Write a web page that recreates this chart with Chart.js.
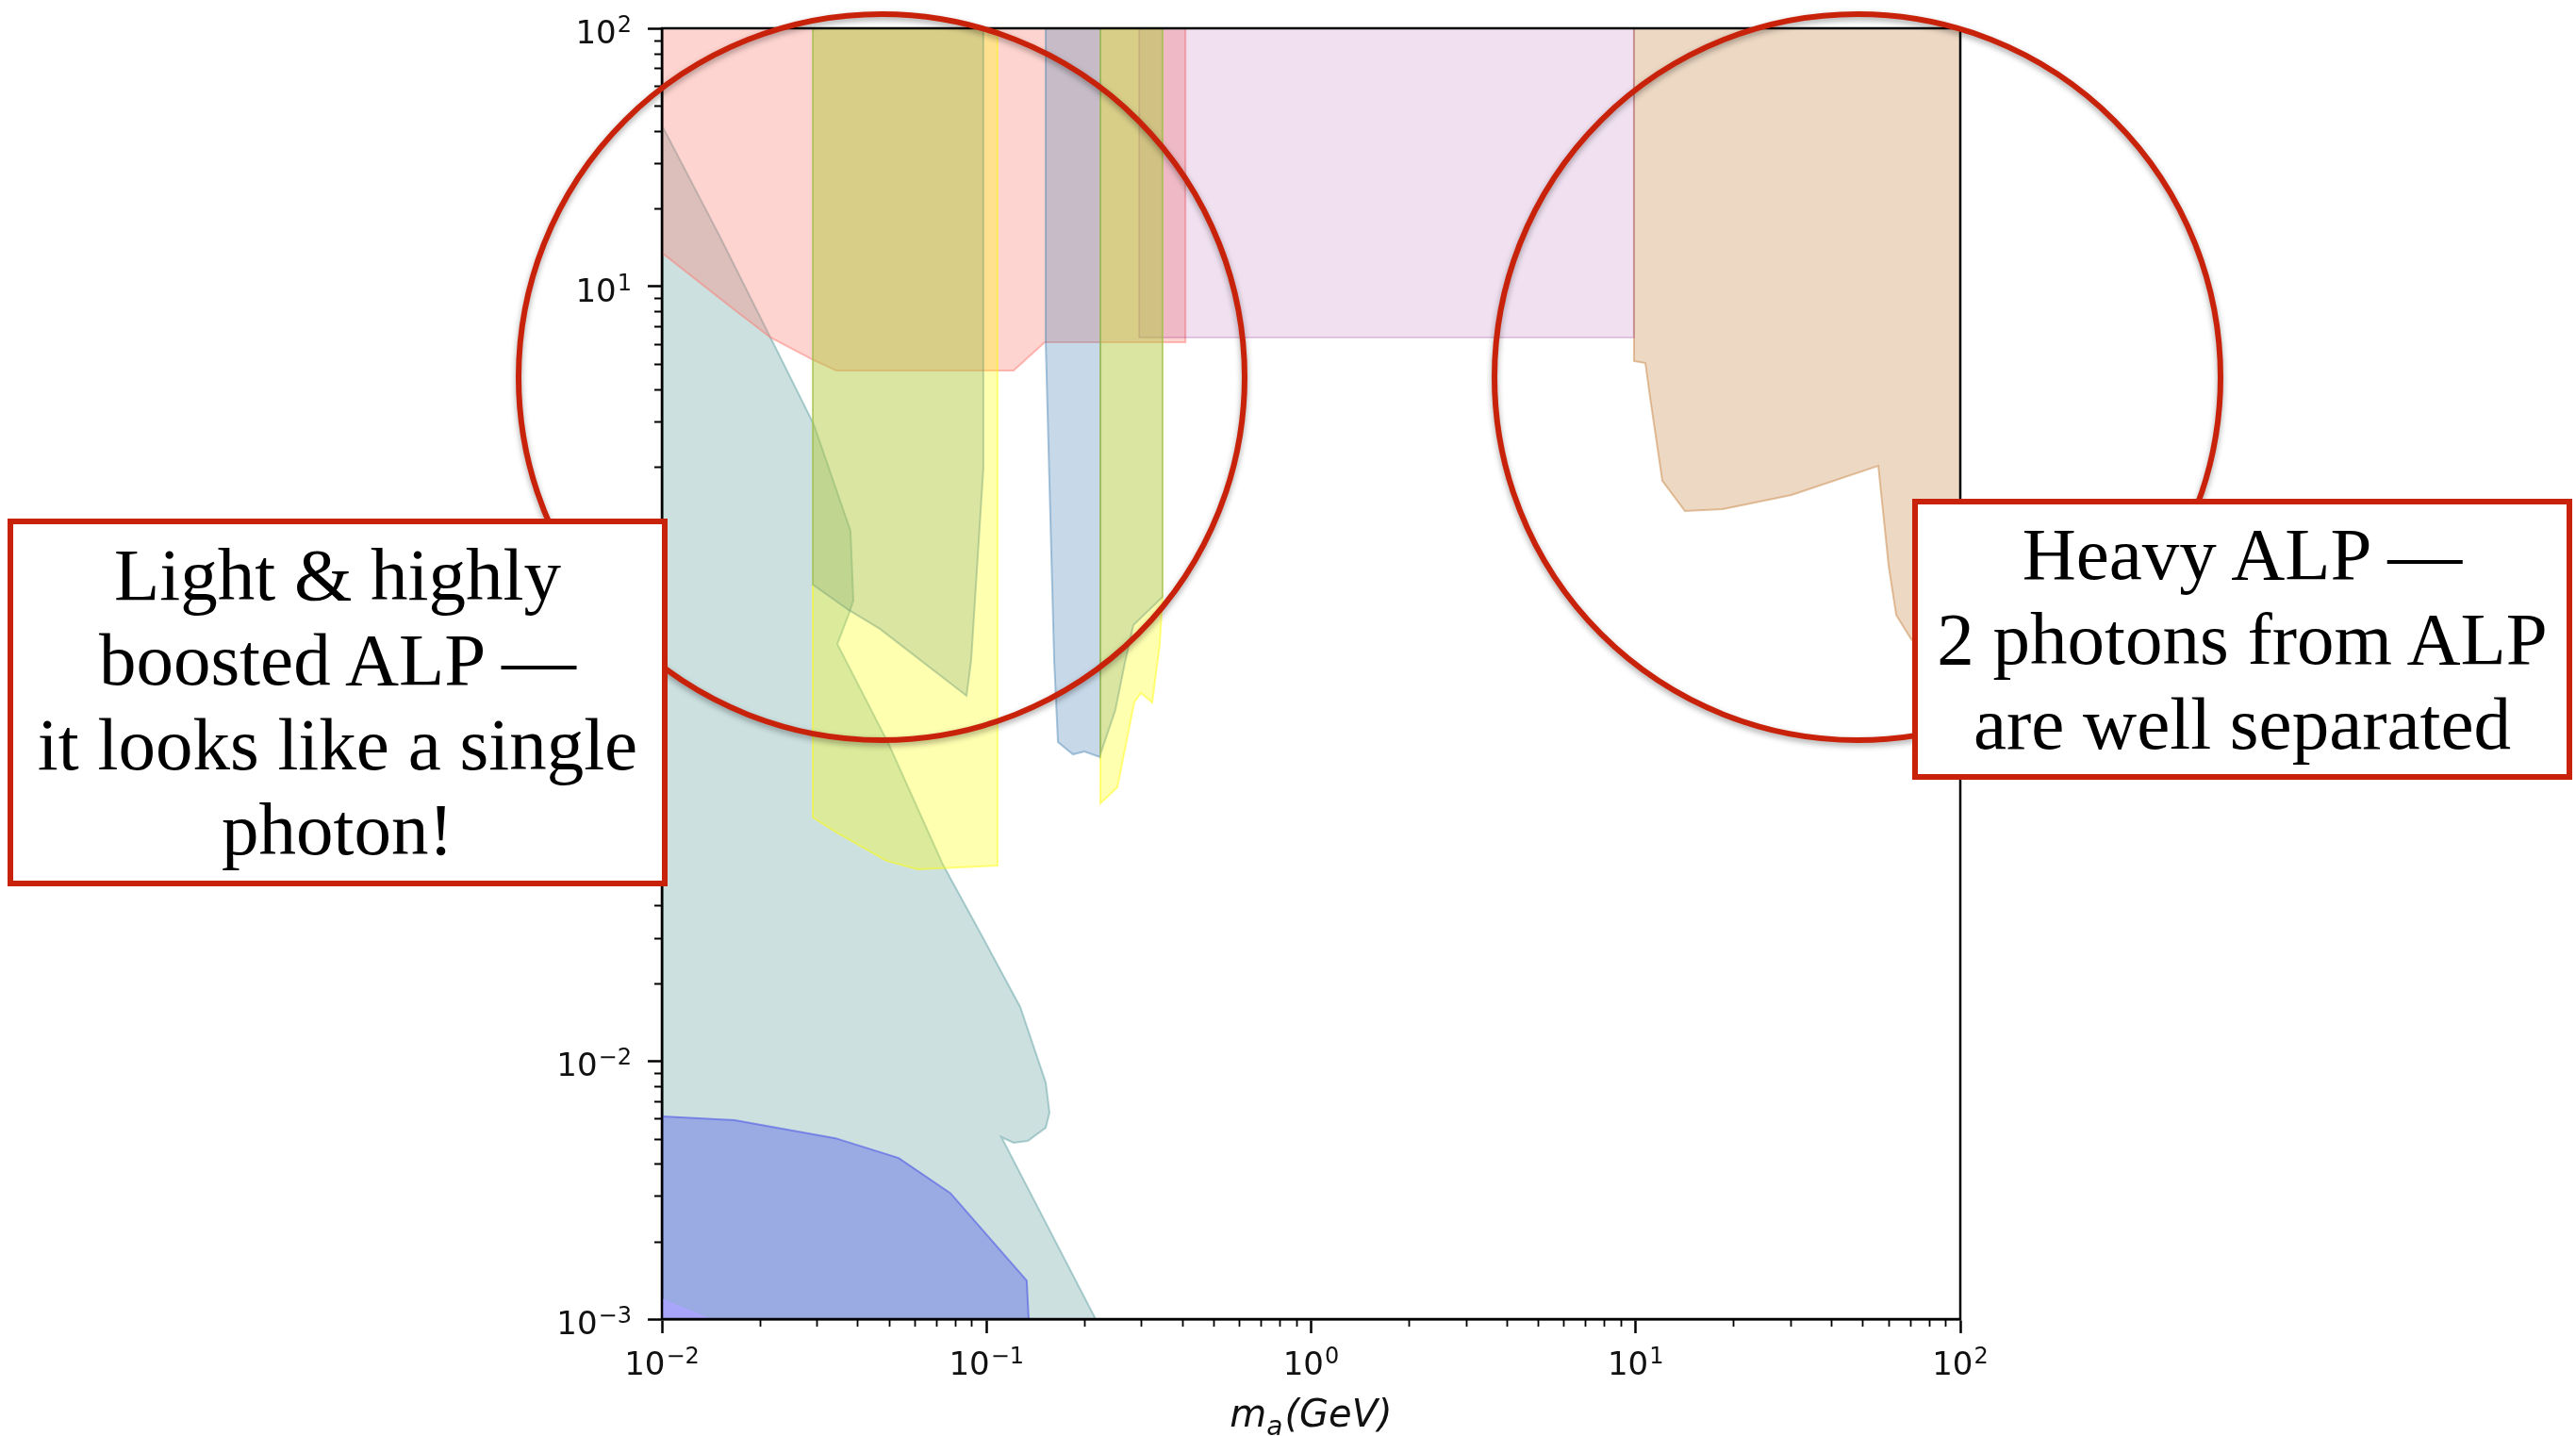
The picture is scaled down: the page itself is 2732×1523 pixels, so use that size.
<!DOCTYPE html>
<html>
<head>
<meta charset="utf-8">
<title>ALP exclusion regions</title>
<script src="https://cdn.jsdelivr.net/npm/chart.js@4.4.1/dist/chart.umd.min.js"></script>
<style>
  html, body { margin: 0; padding: 0; background: #fff; }
  #wrap { position: relative; width: 2732px; height: 1523px; overflow: hidden; }
  #wrap canvas { position: absolute; left: 0; top: 0; }
  .ring {
    position: absolute; box-sizing: border-box;
    border: 6px solid #c9220a; border-radius: 50%;
    filter: drop-shadow(0 3px 3px rgba(0, 0, 0, 0.35));
  }
  .note {
    position: absolute; box-sizing: border-box;
    border: 6px solid #c9220a; background: #fff;
    display: flex; align-items: center; justify-content: center; text-align: center;
    font-family: 'Liberation Serif', 'Times New Roman', serif;
    font-size: 79px; line-height: 90px; color: #000;
  }
</style>
</head>
<body>
<div id="wrap">
  <canvas id="alpChart"></canvas>
  <div class="ring" style="left:547px; top:12px; width:776px; height:776px;"></div>
  <div class="ring" style="left:1582px; top:12px; width:776px; height:776px;"></div>
  <div class="note" style="left:8px; top:550px; width:700px; height:390px;">
    <div>Light &amp; highly<br>boosted ALP —<br>it looks like a single<br>photon!</div>
  </div>
  <div class="note" style="left:2028px; top:529px; width:700px; height:298px;">
    <div>Heavy ALP —<br>2 photons from ALP<br>are well separated</div>
  </div>
</div>

<script>
// axes: ALP mass (GeV) horizontally, coupling vertically, both log
const massTicks = [0.01, 0.1, 1, 10, 100];
const massTickExponents = ['−2', '−1', '0', '1', '2'];
const couplingTicks = [0.001, 0.01, 0.1, 1, 10, 100];
const couplingTickExponents = ['−3', '−2', '−1', '0', '1', '2'];
const minorSteps = [2, 3, 4, 5, 6, 7, 8, 9];

// excluded regions (closed outlines)
const redMass = [0.01, 0.01, 0.0165, 0.0216, 0.0294, 0.0345, 0.1212, 0.1511, 0.41, 0.41, 0.01];
const redCoupling = [100, 13.5, 8.23, 6.34, 5.18, 4.72, 4.72, 6.08, 6.08, 100, 100];

const tealMass = [0.01, 0.01, 0.01504, 0.0216, 0.02936, 0.0381, 0.03889, 0.0376, 0.0347, 0.0501, 0.0734, 0.0959,
                  0.127, 0.1522, 0.1563, 0.1522, 0.134, 0.1212, 0.1111, 0.2169, 0.01];
const tealCoupling = [0.001, 42.1, 15.73, 6.34, 2.924, 1.131, 0.607, 0.535, 0.412, 0.1676, 0.0576, 0.0312,
                      0.01618, 0.00825, 0.00631, 0.00551, 0.0049, 0.00482, 0.00507, 0.001, 0.001];

const yellowMass = [0.02916, 0.02916, 0.0345, 0.0491, 0.0613, 0.1081, 0.1081, 0.02916];
const yellowCoupling = [100, 0.0877, 0.0767, 0.0596, 0.0552, 0.0571, 100, 100];

const greenMass = [0.02916, 0.02916, 0.0376, 0.0469, 0.0868, 0.0897, 0.0978, 0.0978, 0.02916];
const greenCoupling = [100, 0.70, 0.558, 0.4717, 0.2596, 0.357, 1.97, 100, 100];

const steelMass = [0.1522, 0.1522, 0.1616, 0.166, 0.1847, 0.2001, 0.2243, 0.2243, 0.1522];
const steelCoupling = [100, 6.08, 0.357, 0.1718, 0.154, 0.158, 0.1502, 100, 100];

const yellow2Mass = [0.2243, 0.2243, 0.253, 0.2852, 0.2989, 0.324, 0.3418, 0.3487, 0.3487, 0.2243];
const yellow2Coupling = [100, 0.0995, 0.1148, 0.2446, 0.2661, 0.2446, 0.412, 0.6275, 100, 100];

const green2Mass = [0.2243, 0.2243, 0.2495, 0.2669, 0.2835, 0.3487, 0.3487, 0.2243];
const green2Coupling = [100, 0.154, 0.2288, 0.3483, 0.4877, 0.6275, 100, 100];

const purpleMass = [0.2951, 0.2951, 9.88, 9.88, 0.2951];
const purpleCoupling = [100, 6.34, 6.34, 100, 100];

const tanMass = [9.88, 9.88, 10.71, 11.07, 12.08, 14.18, 18.54, 30.2, 55.9, 60.2, 63.5, 70.6, 82.4, 100, 100, 9.88];
const tanCoupling = [100, 5.14, 5.05, 3.73, 1.766, 1.349, 1.372, 1.556, 2.018, 0.821, 0.533, 0.43, 0.357, 0.315, 100, 100];

const royalMass = [0.01, 0.01, 0.01674, 0.03423, 0.0536, 0.0774, 0.133, 0.1349, 0.01];
const royalCoupling = [0.001, 0.0061, 0.0059, 0.00502, 0.00421, 0.003076, 0.00141, 0.001, 0.001];

const violetMass = [0.01, 0.01, 0.01397, 0.01];
const violetCoupling = [0.001, 0.00119, 0.001, 0.001];

function region(mass, coupling, rgb, alpha) {
  return {
    data: mass.map((m, i) => ({ x: m, y: coupling[i] })),
    backgroundColor: 'rgba(' + rgb + ',' + alpha + ')',
    borderColor: 'rgba(' + rgb + ',' + Math.min(1, alpha * 1.5) + ')',
    borderWidth: 2,
    pointRadius: 0,
    tension: 0,
    fill: 'shape'
  };
}

function logTicks(majors) {
  const out = [];
  majors.forEach((v, i) => {
    out.push({ value: v, major: true });
    if (i < majors.length - 1) minorSteps.forEach(k => out.push({ value: v * k, major: false }));
  });
  return out;
}

const FONT = '"DejaVu Sans"';

// "10" with a raised exponent, like matplotlib's mathtext
function drawPower(ctx, exp, x, y, align) {
  ctx.font = '34px ' + FONT;
  const wb = ctx.measureText('10').width;
  ctx.font = '24px ' + FONT;
  const we = ctx.measureText(exp).width;
  const total = wb + 1 + we;
  const left = align === 'center' ? x - total / 2 : x - total;
  ctx.font = '34px ' + FONT;
  ctx.fillText('10', left, y);
  ctx.font = '24px ' + FONT;
  ctx.fillText(exp, left + wb + 1, y - 12);
}

// frame on top of the fills, short minor ticks, power-of-ten labels, axis title
const axisDecor = {
  id: 'axisDecor',
  afterDatasetsDraw(chart) {
    const { ctx, chartArea: a, scales } = chart;
    ctx.save();
    ctx.strokeStyle = '#000';
    ctx.lineWidth = 1.8;
    ctx.beginPath();
    scales.x.ticks.filter(t => !t.major).forEach(t => {
      const px = Math.round(scales.x.getPixelForValue(t.value)) + 0.5;
      ctx.moveTo(px, a.bottom);
      ctx.lineTo(px, a.bottom + 8);
    });
    scales.y.ticks.filter(t => !t.major).forEach(t => {
      const py = Math.round(scales.y.getPixelForValue(t.value)) + 0.5;
      ctx.moveTo(a.left, py);
      ctx.lineTo(a.left - 8, py);
    });
    ctx.stroke();
    ctx.lineWidth = 2.5;
    ctx.strokeRect(a.left, a.top, a.right - a.left, a.bottom - a.top);

    ctx.fillStyle = '#111';
    ctx.textAlign = 'left';
    ctx.textBaseline = 'alphabetic';
    massTicks.forEach((v, i) => {
      drawPower(ctx, massTickExponents[i], scales.x.getPixelForValue(v), a.bottom + 59, 'center');
    });
    couplingTicks.forEach((v, i) => {
      drawPower(ctx, couplingTickExponents[i], a.left - 32, scales.y.getPixelForValue(v) + 16, 'right');
    });

    // m_a(GeV)
    const big = 'italic 40px ' + FONT, small = 'italic 28px ' + FONT;
    ctx.font = big;
    const wm = ctx.measureText('m').width, wr = ctx.measureText('(GeV)').width;
    ctx.font = small;
    const wa = ctx.measureText('a').width;
    let x0 = (a.left + a.right) / 2 - (wm + wa + wr + 2) / 2;
    const base = a.bottom + 114;
    ctx.font = big;
    ctx.fillText('m', x0, base);
    ctx.font = small;
    ctx.fillText('a', x0 + wm, base + 9);
    ctx.font = big;
    ctx.fillText('(GeV)', x0 + wm + wa + 2, base);
    ctx.restore();
  }
};

const tickMarks = {
  drawOnChartArea: false,
  drawTicks: true,
  tickLength: 15,
  tickWidth: 2.5,
  tickColor: c => (c.tick && c.tick.major ? '#000' : 'rgba(0,0,0,0)')
};

new Chart(document.getElementById('alpChart'), {
  type: 'line',
  data: {
    datasets: [
      region(violetMass, violetCoupling, '170,165,255', 0.85),
      region(royalMass, royalCoupling, '80,90,230', 0.4),
      region(green2Mass, green2Coupling, '102,150,112', 0.25),
      region(greenMass, greenCoupling, '102,150,112', 0.25),
      region(yellow2Mass, yellow2Coupling, '255,255,0', 0.31),
      region(yellowMass, yellowCoupling, '255,255,0', 0.31),
      region(steelMass, steelCoupling, '70,130,180', 0.3),
      region(purpleMass, purpleCoupling, '128,0,128', 0.12),
      region(tanMass, tanCoupling, '195,125,55', 0.3),
      region(redMass, redCoupling, '252,120,110', 0.32),
      region(tealMass, tealCoupling, '95,158,160', 0.32)
    ]
  },
  options: {
    responsive: true,
    maintainAspectRatio: false,
    animation: false,
    events: [],
    layout: { padding: { left: 0, top: 30, right: 653, bottom: 0 } },
    plugins: {
      legend: { display: false },
      tooltip: { enabled: false }
    },
    scales: {
      x: {
        type: 'logarithmic',
        min: 0.01,
        max: 100,
        afterBuildTicks: s => { s.ticks = logTicks(massTicks); },
        afterFit: s => { s.height = 124; s.paddingLeft = 0; s.paddingRight = 0; },
        border: { display: true, color: '#000', width: 2.5 },
        grid: tickMarks,
        ticks: { display: false, autoSkip: false }
      },
      y: {
        type: 'logarithmic',
        min: 0.001,
        max: 100,
        afterBuildTicks: s => { s.ticks = logTicks(couplingTicks); },
        afterFit: s => { s.width = 702; s.paddingTop = 0; s.paddingBottom = 0; },
        border: { display: true, color: '#000', width: 2.5 },
        grid: tickMarks,
        ticks: { display: false, autoSkip: false }
      }
    }
  },
  plugins: [axisDecor]
});
</script>
</body>
</html>
